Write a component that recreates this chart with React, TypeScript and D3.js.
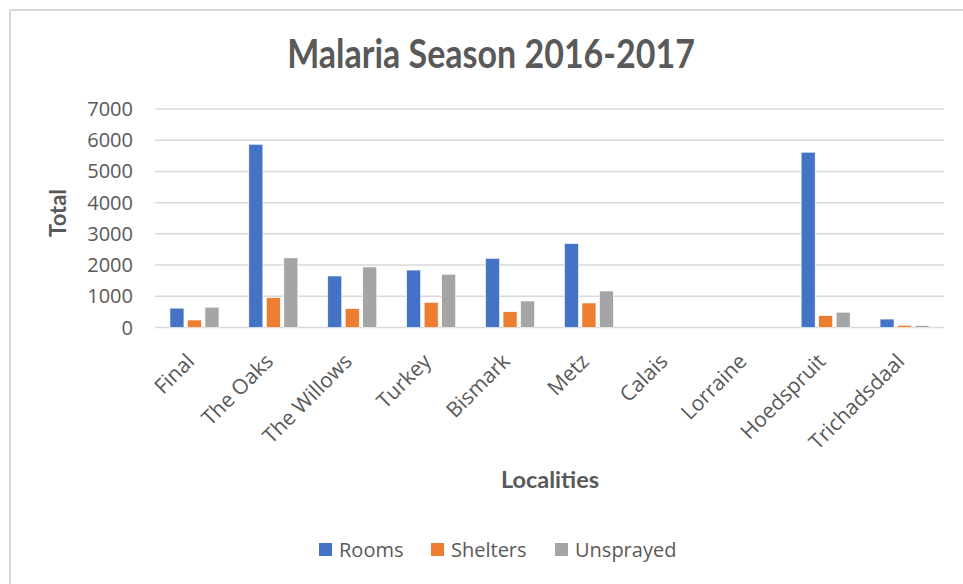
import React from "react";
import * as d3 from "d3";

const categories = ["Final", "The Oaks", "The Willows", "Turkey", "Bismark", "Metz", "Calais", "Lorraine", "Hoedspruit", "Trichadsdaal"];
const seriesNames = ["Rooms", "Shelters", "Unsprayed"];
const rooms = [620, 5870, 1650, 1840, 2215, 2690, 0, 0, 5615, 270];
const shelters = [240, 955, 605, 805, 505, 785, 0, 0, 380, 70];
const unsprayed = [650, 2230, 1940, 1705, 850, 1170, 0, 0, 490, 60];
const yTicks = [0, 1000, 2000, 3000, 4000, 5000, 6000, 7000];
const colors = ["#4472C4", "#ED7D31", "#A5A5A5"];

const W = 963;
const H = 584;
const plotLeft = 155;
const plotRight = 944;
const plotTop = 109;
const plotBottom = 327.5;
const textColor = "#595959";
const font = "'Open Sans', sans-serif";

export default function App() {
  const x = d3.scaleBand<string>().domain(categories).range([plotLeft, plotRight]).paddingInner(0).paddingOuter(0);
  const groupW = 49;
  const inner = d3.scaleBand<string>().domain(seriesNames).range([0, groupW]).paddingInner(0.2);
  const y = d3.scaleLinear().domain([0, 7000]).range([plotBottom, plotTop]);
  const data = [rooms, shelters, unsprayed];

  return (
    <svg width={W} height={H} style={{ position: "absolute", left: 0, top: 0, background: "#fff" }}>
      <rect x={0} y={0} width={W} height={H} fill="#fff" />
      <line x1={10} y1={10} x2={W} y2={10} stroke="#D9D9D9" strokeWidth={2} />
      <line x1={10} y1={10} x2={10} y2={H} stroke="#D9D9D9" strokeWidth={2} />

      <text
        transform="translate(491,68) scale(1,1.15)"
        textAnchor="middle"
        fontFamily="Lato, sans-serif"
        fontWeight={700}
        fontSize={34}
        fill={textColor}
      >
        Malaria Season 2016-2017
      </text>

      {yTicks.map((t) => (
        <g key={t}>
          <line x1={plotLeft} x2={plotRight} y1={y(t)} y2={y(t)} stroke="#D9D9D9" strokeWidth={1.5} />
          <text x={133} y={y(t)} dy="0.35em" textAnchor="end" fontFamily={font} fontSize={20} fill={textColor}>
            {t}
          </text>
        </g>
      ))}

      {data.map((vals, si) =>
        categories.map((c, ci) => {
          const v = vals[ci];
          if (!v) return null;
          const bx = (x(c) as number) + x.bandwidth() / 2 - groupW / 2 + (inner(seriesNames[si]) as number);
          return (
            <rect
              key={si + "-" + ci}
              x={bx}
              y={y(v)}
              width={inner.bandwidth()}
              height={plotBottom - y(v)}
              fill={colors[si]}
              stroke="#fff"
              strokeWidth={0.6}
            />
          );
        })
      )}

      {categories.map((c) => {
        const cx = (x(c) as number) + x.bandwidth() / 2 - 4;
        return (
          <text
            key={c}
            transform={`translate(${cx},${plotBottom + 30}) rotate(-45)`}
            textAnchor="end"
            dy="0.35em"
            fontFamily={font}
            fontSize={21}
            fill={textColor}
          >
            {c}
          </text>
        );
      })}

      <text transform={`translate(66,213) rotate(-90)`} textAnchor="middle" fontFamily="Lato, sans-serif" fontWeight={700} fontSize={22} fill={textColor}>
        Total
      </text>
      <text x={550} y={488} textAnchor="middle" fontFamily="Lato, sans-serif" fontWeight={700} fontSize={23.5} fill={textColor}>
        Localities
      </text>

      {seriesNames.map((s, i) => {
        const lx = [319, 431, 555][i];
        return (
          <g key={s}>
            <rect x={lx} y={543} width={13} height={13} fill={colors[i]} />
            <text x={lx + 20} y={550} dy="0.35em" fontFamily={font} fontSize={20} fill={textColor}>
              {s}
            </text>
          </g>
        );
      })}
    </svg>
  );
}
